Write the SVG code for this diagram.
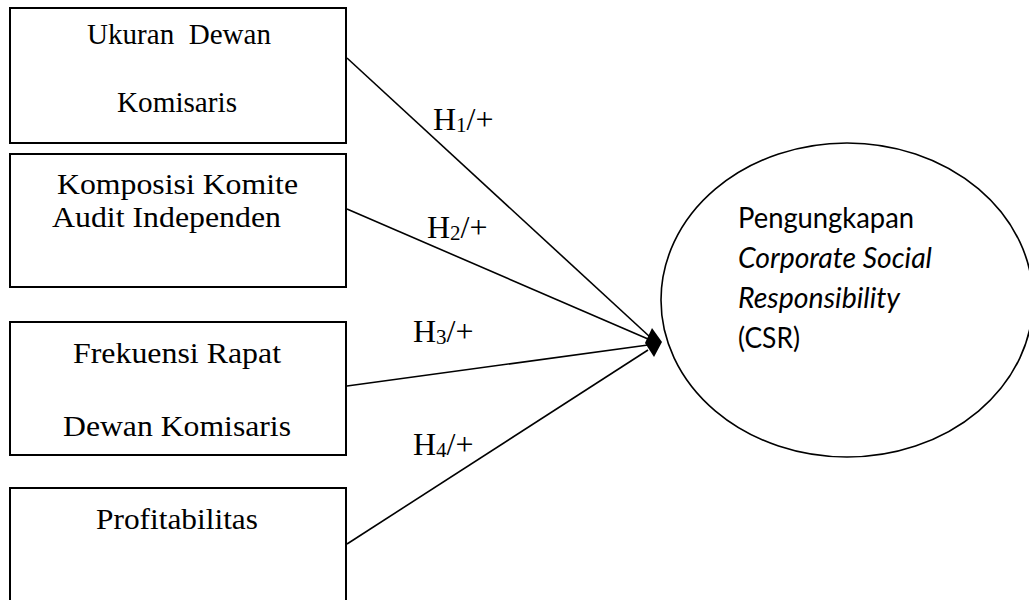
<svg xmlns="http://www.w3.org/2000/svg" width="1029" height="600" viewBox="0 0 1029 600">
<style>
.box{fill:#fff;stroke:#000;stroke-width:2}
.t{font-family:"Liberation Serif","Times New Roman",serif;font-size:30px;fill:#000;white-space:pre}
.h{font-family:"Liberation Serif","Times New Roman",serif;font-size:32px;fill:#000}
.s{font-size:21px}
.e{font-family:Lato,"Open Sans",sans-serif;font-size:29px;fill:#000}
.conn{stroke:#000;stroke-width:1.6;fill:none}
</style>
<rect width="1029" height="600" fill="#fff"/>
<g id="node-ukuran">
<rect class="box" x="10" y="8" width="336" height="135"/>
<text class="t" x="87" y="44" textLength="184" lengthAdjust="spacingAndGlyphs">Ukuran  Dewan</text>
<text class="t" x="117" y="112" textLength="120" lengthAdjust="spacingAndGlyphs">Komisaris</text>
</g>
<g id="node-komposisi">
<rect class="box" x="10" y="154" width="336" height="133"/>
<text class="t" x="57" y="194" textLength="241" lengthAdjust="spacingAndGlyphs">Komposisi Komite</text>
<text class="t" x="52" y="227" textLength="229" lengthAdjust="spacingAndGlyphs">Audit Independen</text>
</g>
<g id="node-frekuensi">
<rect class="box" x="10" y="322" width="336" height="133"/>
<text class="t" x="73" y="363" textLength="208" lengthAdjust="spacingAndGlyphs">Frekuensi Rapat</text>
<text class="t" x="63" y="436" textLength="228" lengthAdjust="spacingAndGlyphs">Dewan Komisaris</text>
</g>
<g id="node-profitabilitas">
<rect class="box" x="10" y="488" width="336" height="125"/>
<text class="t" x="96" y="529" textLength="162" lengthAdjust="spacingAndGlyphs">Profitabilitas</text>
</g>
<g id="node-csr">
<ellipse cx="847" cy="300" rx="186" ry="157" fill="#fff" stroke="#000" stroke-width="1.6"/>
<text class="e" x="738" y="228" textLength="176" lengthAdjust="spacingAndGlyphs">Pengungkapan</text>
<text class="e" x="738" y="268" font-style="italic" textLength="194" lengthAdjust="spacingAndGlyphs">Corporate Social</text>
<text class="e" x="738" y="308" font-style="italic" textLength="162" lengthAdjust="spacingAndGlyphs">Responsibility</text>
<text class="e" x="738" y="348" textLength="62" lengthAdjust="spacingAndGlyphs">(CSR)</text>
</g>
<g id="connectors">
<line class="conn" x1="347" y1="58" x2="650" y2="337"/>
<line class="conn" x1="347" y1="209" x2="648" y2="339"/>
<line class="conn" x1="347" y1="386" x2="648" y2="345"/>
<line class="conn" x1="347" y1="544" x2="648" y2="350"/>
<polygon points="652,328 662,342 654,357 645,343" fill="#000"/>
<text class="h" x="433" y="130">H<tspan class="s" dy="2">1</tspan><tspan dy="-2">/+</tspan></text>
<text class="h" x="427" y="238">H<tspan class="s" dy="2">2</tspan><tspan dy="-2">/+</tspan></text>
<text class="h" x="413" y="342">H<tspan class="s" dy="2">3</tspan><tspan dy="-2">/+</tspan></text>
<text class="h" x="413" y="455">H<tspan class="s" dy="2">4</tspan><tspan dy="-2">/+</tspan></text>
</g>
</svg>
